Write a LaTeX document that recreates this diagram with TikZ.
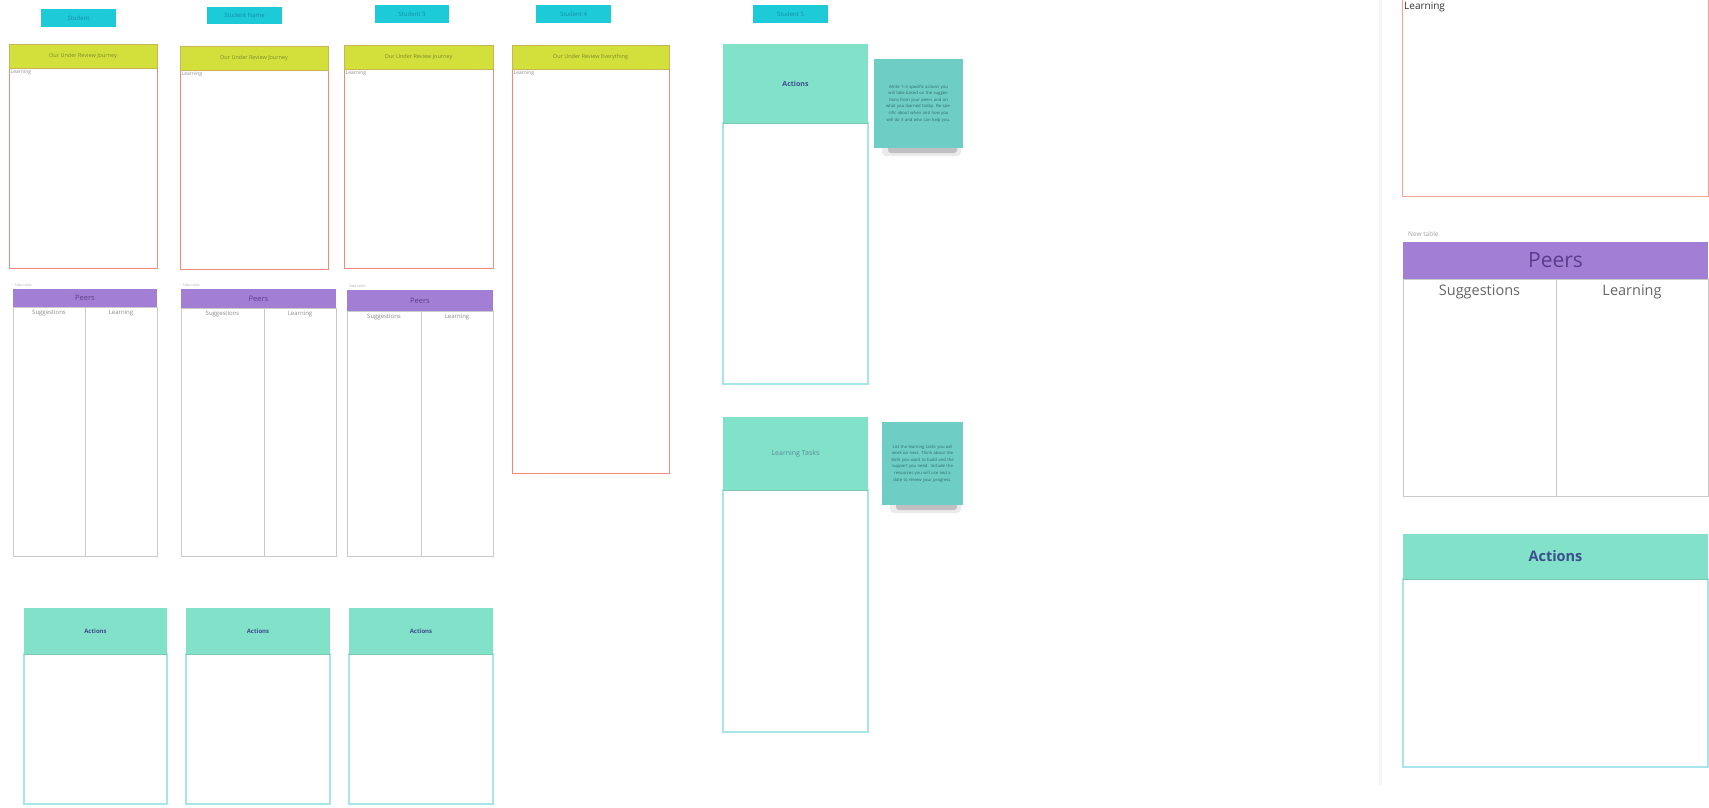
\documentclass[tikz,border=0pt]{standalone}
\usepackage{fontspec}
\setmainfont{Open Sans}
\definecolor{cyanlab}{HTML}{1CCAD8}
\definecolor{cyantext}{HTML}{1690A6}
\definecolor{lime}{HTML}{D3E03C}
\definecolor{limeedge}{HTML}{C9B456}
\definecolor{limetext}{HTML}{7E8A2A}
\definecolor{salmon}{HTML}{F2897A}
\definecolor{purp}{HTML}{A27FD4}
\definecolor{purptext}{HTML}{5B3D8C}
\definecolor{tealhead}{HTML}{82E1C9}
\definecolor{tealedge}{HTML}{A6E6EA}
\definecolor{actext}{HTML}{3E4D8E}
\definecolor{lttext}{HTML}{5E8A9A}
\definecolor{sticky}{HTML}{6ECDC5}
\definecolor{stickytext}{HTML}{2F6E6A}
\definecolor{gline}{HTML}{C9C9C9}
\definecolor{gtext}{HTML}{8A8A8A}
\tikzset{
  labtext/.style={font=\fontsize{6}{7}\selectfont, text=cyantext, inner sep=0},
  ytitle/.style={font=\fontsize{5.5}{6.5}\selectfont, text=limetext, inner sep=0},
  learnsm/.style={font=\fontsize{5}{6}\selectfont, text=gtext, inner sep=1.5pt, anchor=north west},
  newtabsm/.style={font=\fontsize{3.5}{4}\selectfont, text=gtext!70, inner sep=2pt, anchor=south west},
  newtablg/.style={font=\fontsize{6.5}{7}\selectfont, text=gtext!80, inner sep=5pt, anchor=south west},
  ptitlesm/.style={font=\fontsize{7.5}{9}\selectfont, text=purptext, inner sep=0},
  ptitlelg/.style={font=\fontsize{21}{24}\selectfont, text=purptext, inner sep=0},
  pcolsm/.style={font=\fontsize{6}{7}\selectfont, text=gtext, inner sep=3pt, anchor=north},
  pcollg/.style={font=\fontsize{14.5}{16}\selectfont, text=black!60, inner sep=6pt, anchor=north},
  atitlesm/.style={font=\bfseries\fontsize{6}{7}\selectfont, text=actext, inner sep=0},
  atitlemd/.style={font=\bfseries\fontsize{7}{8}\selectfont, text=actext, inner sep=0},
  atitlelg/.style={font=\bfseries\fontsize{14.5}{16}\selectfont, text=actext, inner sep=0},
  atitlelt/.style={font=\fontsize{7}{8}\selectfont, text=lttext, inner sep=0},
  stext/.style={font=\fontsize{4.2}{6.6}\selectfont, text=stickytext, align=center, text width=74pt, inner sep=0},
}
% cyan label: name, x1, y1, x2, y2, text
\newcommand\cyanlabel[6]{%
  \fill[cyanlab] (#2,#3) rectangle (#4,#5);
  \node[labtext] (#1) at ({(#2+#4)/2},{(#3+#5)/2}) {#6};}
% yellow box: name, x1, x2, ytop, yhead, ybot, title
\newcommand\yellowbox[7]{%
  \draw[salmon, line width=1pt] (#2,#5) rectangle (#3,#6);
  \draw[limeedge, fill=lime, line width=0.8pt] (#2,#4) rectangle (#3,#5);
  \node[ytitle] (#1t) at ({(#2+#3)/2},{(#4+#5)/2}) {#7};
  \node[learnsm] (#1l) at (#2,#5) {Learning};}
% peers table: name, x1, xdiv, x2, ytop, yhead, ybot, size suffix
\newcommand\peerstable[8]{%
  \node[newtab#8] (#1n) at (#2,#5) {New table};
  \draw[gline, line width=1pt] (#2,#6) rectangle (#4,#7);
  \draw[gline, line width=1pt] (#3,#6) -- (#3,#7);
  \fill[purp] (#2,#5) rectangle (#4,#6);
  \node[ptitle#8] (#1t) at ({(#2+#4)/2},{(#5+#6)/2}) {Peers};
  \node[pcol#8] (#1s) at ({(#2+#3)/2},#6) {Suggestions};
  \node[pcol#8] (#1l) at ({(#3+#4)/2},#6) {Learning};}
% actions box: name, x1, x2, ytop, yhead, ybot, text, style
\newcommand\actbox[8]{%
  \draw[tealedge, line width=1.2pt] (#2,#5) rectangle (#3,#6);
  \fill[tealhead] (#2,#4) rectangle (#3,#5);
  \draw[tealhead!85!black!90, line width=0.5pt] (#2,#5) -- (#3,#5);
  \node[#8] (#1t) at ({(#2+#3)/2},{(#4+#5)/2}) {#7};}
% sticky: name, x1, y1, x2, y2, text
\newcommand\stickynote[6]{%
  \fill[black, opacity=0.08, rounded corners=4pt] ({#2+8},{#5-4}) rectangle ({#4-2},{#5+8});
  \fill[black, opacity=0.18, rounded corners=3pt] ({#2+14},{#5-2}) rectangle ({#4-6},{#5+5});
  \fill[sticky] (#2,#3) rectangle (#4,#5);
  \node[stext] (#1) at ({(#2+#4)/2},{(#3+#5)/2}) {#6};}
\begin{document}
\begin{tikzpicture}[x=1pt,y=-1pt]
\clip (0,0) rectangle (1709,807);
\fill[white] (0,0) rectangle (1709,807);
% top labels
\cyanlabel{c1}{41}{9}{116}{27}{Student}
\cyanlabel{c2}{207}{7}{282}{24}{Student Name}
\cyanlabel{c3}{375}{5}{449}{23}{Student 3}
\cyanlabel{c4}{536}{5}{611}{23}{Student 4}
\cyanlabel{c5}{753}{5}{828}{23}{Student 5}
% yellow boxes
\yellowbox{y1}{9}{157}{44}{68}{268}{Our Under Review Journey}
\yellowbox{y2}{180}{328}{46}{70}{269}{Our Under Review Journey}
\yellowbox{y3}{344}{493}{45}{69}{268}{Our Under Review Journey}
\yellowbox{y4}{512}{669}{45}{69}{473}{Our Under Review Everything}
% peers tables
\peerstable{p1}{13}{85}{157}{289}{307}{556}{sm}
\peerstable{p2}{181}{264}{336}{289}{308}{556}{sm}
\peerstable{p3}{347}{421}{493}{290}{311}{556}{sm}
% actions boxes
\actbox{a1}{24}{167}{608}{654}{804}{Actions}{atitlesm}
\actbox{a2}{186}{330}{608}{654}{804}{Actions}{atitlesm}
\actbox{a3}{349}{493}{608}{654}{804}{Actions}{atitlesm}
% column 5
\actbox{a5}{723}{868}{44}{123}{384}{Actions}{atitlemd}
\actbox{lt}{723}{868}{417}{490}{732}{Learning Tasks}{atitlelt}
\stickynote{s1}{874}{59}{963}{148}{Write 1--2 specific actions you will take based on the suggestions from your peers and on what you learned today. Be specific about when and how you will do it and who can help you.}
\stickynote{s2}{882}{422}{963}{505}{List the learning tasks you will work on next. Think about the skills you want to build and the support you need. Include the resources you will use and a date to review your progress.}
% right panel
\fill[black!4] (1379,0) rectangle (1382,785);
\draw[salmon!80, line width=1pt] (1402,-10) rectangle (1708,196);
\node[font=\fontsize{10}{11}\selectfont, text=black!80, inner sep=2pt, anchor=north west] (rl) at (1402,0) {Learning};
\peerstable{pr}{1403}{1556}{1708}{242}{279}{496}{lg}
\actbox{ar}{1403}{1708}{534}{579}{767}{Actions}{atitlelg}
\end{tikzpicture}
\end{document}
